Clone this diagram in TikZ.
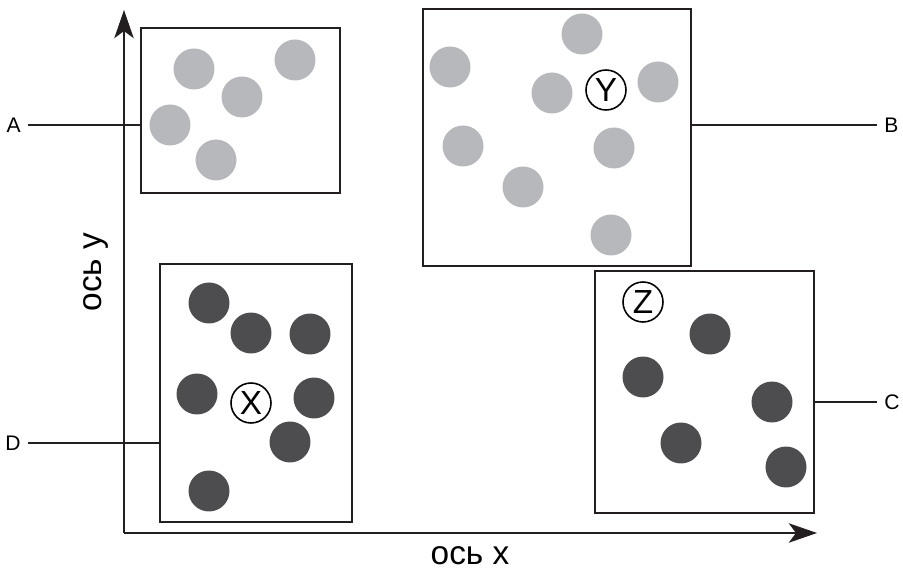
\documentclass[tikz,border=0pt]{standalone}
\usepackage{fontspec}
\setmainfont{Liberation Sans}
\usetikzlibrary{arrows.meta,positioning}
\definecolor{dotlight}{HTML}{B7B8BB}
\definecolor{dotdark}{HTML}{4D4D4F}
\definecolor{inkgray}{HTML}{231F20}

\begin{document}
\begin{tikzpicture}[x=0.02cm,y=-0.02cm,font=\fontsize{12}{14}\selectfont]
  \tikzset{panel/.style={draw=inkgray, line width=1.1pt, inner sep=0pt}, dot/.style={circle, inner sep=0pt, minimum size=0.82cm}, light/.style={dot, fill=dotlight}, dark/.style={dot, fill=dotdark}, marked/.style={dot, draw=black, line width=0.9pt, minimum size=0.8cm, font=\fontsize{19}{19}\selectfont}, tag/.style={inner sep=4pt}, lead/.style={draw=inkgray, line width=1.1pt}, axis/.style={draw=inkgray, line width=1.3pt, -{Stealth[length=16pt,width=11pt,inset=4pt]}}, axislabel/.style={font=\fontsize{19}{19}\selectfont}}
  \useasboundingbox (0,0) rectangle (903,570);
  % axes
  \coordinate (O) at (124,533);
  \coordinate (ytip) at (124,10);
  \coordinate (xtip) at (817,533);
  \draw[axis] (O) -- (ytip);
  \draw[axis] (O) -- (xtip);
  \node[axislabel] (xlab) at (470,556) {ось х};
  \node[axislabel, rotate=90] (ylab) at (96,272) {ось у};
  % panels
  \node[panel, minimum width=3.98cm, minimum height=3.30cm] (boxA) at (240.5,110.5) {};
  \node[panel, minimum width=5.36cm, minimum height=5.14cm] (boxB) at (557,137.5) {};
  \node[panel, minimum width=4.38cm, minimum height=4.84cm] (boxC) at (704.5,392) {};
  \node[panel, minimum width=3.84cm, minimum height=5.16cm] (boxD) at (256,393) {};
  % labels and leads
  \node[tag, anchor=east] (labA) at (28,125) {A};
  \node[tag, anchor=west] (labB) at (877,125) {B};
  \node[tag, anchor=west] (labC) at (877,402) {C};
  \node[tag, anchor=east] (labD) at (28,443) {D};
  \draw[lead] (labA.east) -- (labA.east -| boxA.west);
  \draw[lead] (labB.west) -- (labB.west -| boxB.east);
  \draw[lead] (labC.west) -- (labC.west -| boxC.east);
  \draw[lead] (labD.east) -- (labD.east -| boxD.west);
  % dots
  \foreach \x/\y [count=\i] in {194/69, 295/60, 242/97, 170/125, 216/160}
    \node[light] (a\i) at (\x,\y) {};
  \foreach \x/\y [count=\i] in {450/67, 582/34, 552/93, 658/82, 463/146, 614/148, 523/187, 611/235}
    \node[light] (b\i) at (\x,\y) {};
  \foreach \x/\y [count=\i] in {710/334, 643/377, 772/402, 681/443, 786/467}
    \node[dark] (c\i) at (\x,\y) {};
  \foreach \x/\y [count=\i] in {209/303, 251/333, 310/334, 197/394, 314/398, 290/442, 209/491}
    \node[dark] (d\i) at (\x,\y) {};
  % marked points
  \node[marked] (ptX) at (251,403) {X};
  \node[marked] (ptY) at (606,90) {Y};
  \node[marked] (ptZ) at (643,302) {Z};
\end{tikzpicture}
\end{document}
